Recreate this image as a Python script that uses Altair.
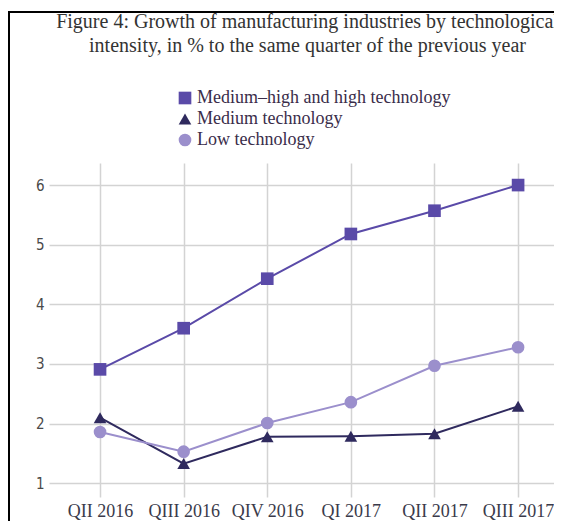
import altair as alt
import pandas as pd

quarters = ["QII 2016", "QIII 2016", "QIV 2016", "QI 2017", "QII 2017", "QIII 2017"]
high = [2.91, 3.60, 4.43, 5.18, 5.57, 6.00]
medium = [2.10, 1.33, 1.78, 1.79, 1.83, 2.29]
low = [1.86, 1.53, 2.01, 2.36, 2.97, 3.28]
series = ["Medium\u2013high and high technology", "Medium technology", "Low technology"]
colors = ["#5a4aa8", "#2f2a5e", "#9b8fcc"]
shapes = ["square", "triangle-up", "circle"]
y_ticks = [1, 2, 3, 4, 5, 6]

rows = []
for name, vals in zip(series, [high, medium, low]):
    for q, v in zip(quarters, vals):
        rows.append({"quarter": q, "value": v, "series": name})
df = pd.DataFrame(rows)

x_enc = alt.X(
    "quarter:N", sort=quarters, title=None,
    scale=alt.Scale(type="point", padding=0.52, align=0.587),
    axis=alt.Axis(domain=False, ticks=False, grid=True, gridColor="#d3d3d3", gridWidth=1.5,
                  labelFont="Liberation Serif", labelFontSize=18, labelColor="#3a3a4a",
                  labelPadding=5, labelAngle=0),
)
y_enc = alt.Y(
    "value:Q", title=None,
    scale=alt.Scale(domain=[0.77, 6.37], nice=False, zero=False),
    axis=alt.Axis(values=y_ticks, domain=False, ticks=False, grid=True, gridColor="#d3d3d3",
                  gridWidth=1.5, labelFont="Liberation Sans Narrow, DejaVu Sans Condensed, sans-serif",
                  labelFontSize=15, labelColor="#4a4a4a", labelPadding=5),
)
color_enc = alt.Color(
    "series:N", title=None, sort=series,
    scale=alt.Scale(domain=series, range=colors),
    legend=alt.Legend(orient="none", legendX=127, legendY=-74, labelFont="Liberation Serif",
                      labelFontSize=18, labelColor="#3a2d4a", symbolSize=160, rowPadding=3,
                      labelOffset=3, symbolStrokeWidth=0, padding=0, labelLimit=500),
)
shape_enc = alt.Shape(
    "series:N", title=None, sort=series,
    scale=alt.Scale(domain=series, range=shapes),
)

base = alt.Chart(df)
lines = base.mark_line(strokeWidth=2).encode(x=x_enc, y=y_enc, color=color_enc, detail="series:N")
points = base.mark_point(filled=True, size=160, opacity=1).encode(
    x=x_enc, y=y_enc, color=color_enc, shape=shape_enc
)

frame_src = alt.Chart(pd.DataFrame({"a": [0]}))
frame_left = frame_src.mark_rule(color="black", strokeWidth=2).encode(
    x=alt.value(-40), y=alt.value(-152), y2=alt.value(358)
)
frame_top = frame_src.mark_rule(color="black", strokeWidth=2).encode(
    x=alt.value(-41), x2=alt.value(505), y=alt.value(-151)
)

chart = alt.layer(lines, points, frame_left, frame_top).properties(
    width=505, height=334,
    title=alt.TitleParams(
        ["Figure 4: Growth of manufacturing industries by technological",
         "intensity, in % to the same quarter of the previous year"],
        font="Liberation Serif", fontSize=20, fontWeight="normal", color="#333333",
        anchor="middle", frame="group", offset=-46, lineHeight=24, dx=6,
    ),
    autosize=alt.AutoSizeParams(type="none"),
    padding={"left": 41, "top": 155, "right": 0, "bottom": 24},
).configure_view(stroke=None)

chart.save("out.html", embed_options={"renderer": "svg", "actions": False})
